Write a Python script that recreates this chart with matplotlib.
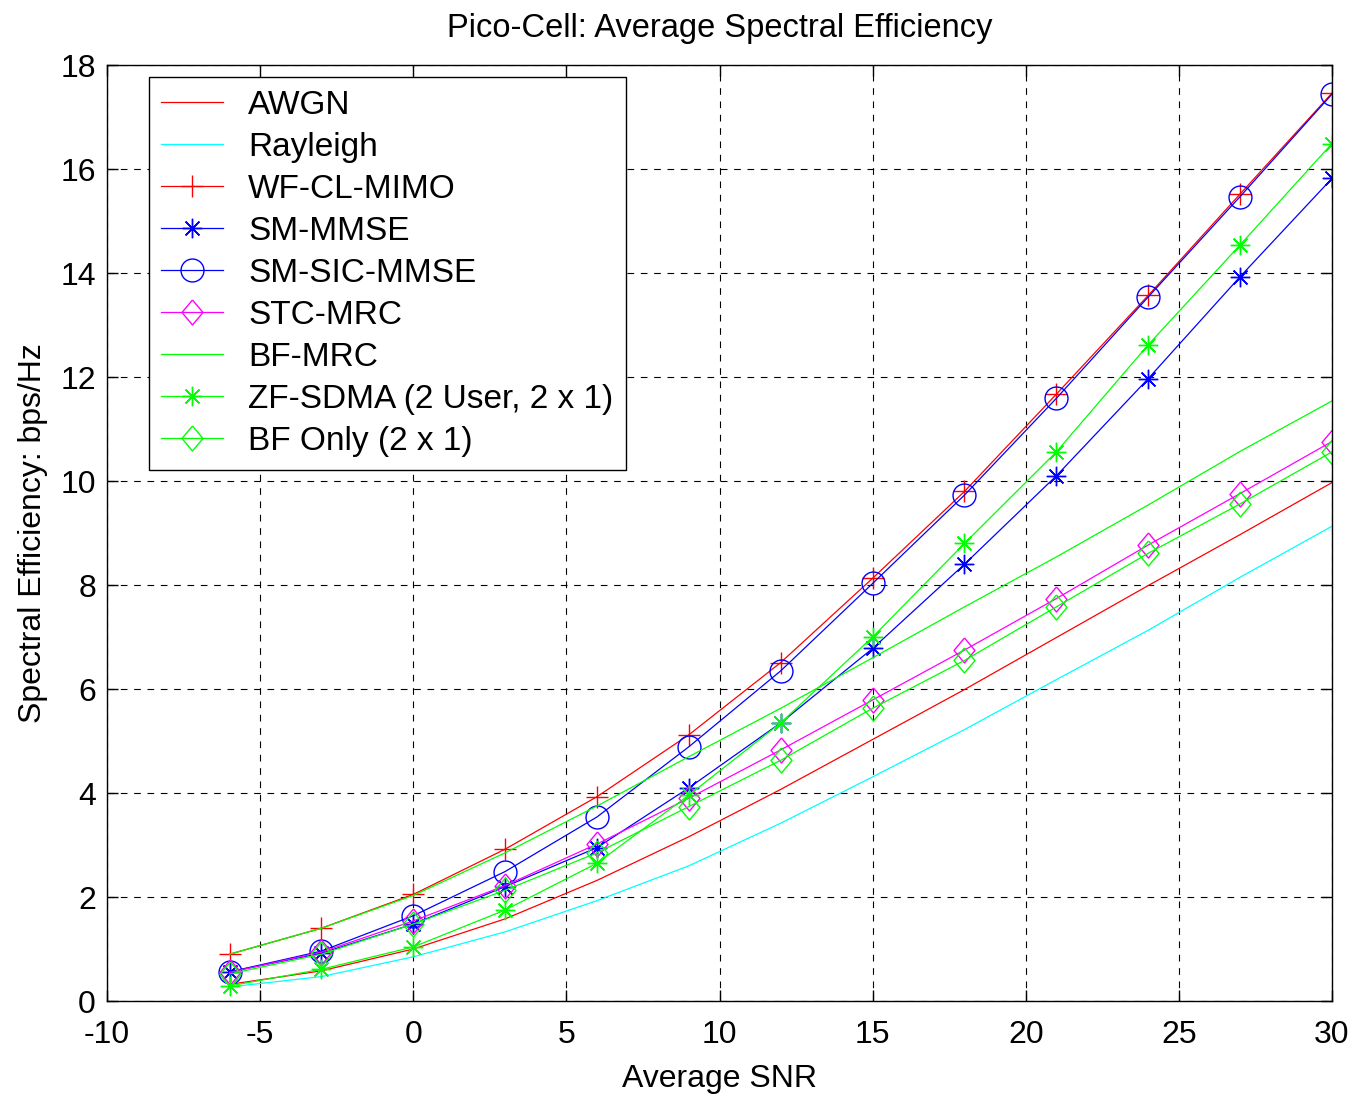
import matplotlib.pyplot as plt
import numpy as np

plt.rcParams["font.family"] = ["Liberation Sans", "DejaVu Sans"]
plt.rcParams["axes.unicode_minus"] = False

snr = [-6, -3, 0, 3, 6, 9, 12, 15, 18, 21, 24, 27, 30]

awgn = [0.32, 0.58, 1.0, 1.58, 2.32, 3.16, 4.07, 5.03, 5.99, 6.99, 7.99, 8.97, 9.97]
rayleigh = [0.27, 0.47, 0.85, 1.33, 1.93, 2.6, 3.42, 4.31, 5.22, 6.18, 7.13, 8.15, 9.13]
wf_cl_mimo = [0.90, 1.40, 2.05, 2.92, 3.93, 5.12, 6.51, 8.13, 9.80, 11.67, 13.57, 15.52, 17.46]
sm_mmse = [0.56, 0.92, 1.48, 2.20, 2.95, 4.10, 5.35, 6.78, 8.40, 10.10, 11.97, 13.93, 15.82]
sm_sic_mmse = [0.56, 0.96, 1.64, 2.49, 3.54, 4.89, 6.35, 8.03, 9.73, 11.59, 13.54, 15.47, 17.44]
stc_mrc = [0.55, 0.94, 1.54, 2.22, 3.02, 3.90, 4.83, 5.79, 6.75, 7.74, 8.77, 9.76, 10.76]
bf_mrc = [0.90, 1.40, 2.03, 2.85, 3.75, 4.70, 5.63, 6.60, 7.58, 8.54, 9.54, 10.57, 11.54]
zf_sdma = [0.29, 0.61, 1.04, 1.75, 2.65, 3.96, 5.35, 7.00, 8.80, 10.56, 12.62, 14.54, 16.49]
bf_only = [0.52, 0.90, 1.48, 2.13, 2.85, 3.74, 4.63, 5.63, 6.55, 7.58, 8.61, 9.56, 10.56]

# matlab style markers
diamond = [(0, 1), (0.84, 0), (0, -1), (-0.84, 0), (0, 1)]
asterisk = (8, 2, 0)

fig = plt.figure(figsize=(13.55, 10.97), dpi=100)
ax = fig.add_axes([0.079, 0.0875, 0.904, 0.8532])

lw = 0.9
ax.plot(snr, awgn, color="#ff0000", lw=lw, label="AWGN")
ax.plot(snr, rayleigh, color="#00ffff", lw=lw, label="Rayleigh")
ax.plot(snr, wf_cl_mimo, color="#ff0000", lw=lw, marker="+", ms=16,
        mew=1.0, label="WF-CL-MIMO")
ax.plot(snr, sm_mmse, color="#0000ff", lw=lw, marker=asterisk, ms=14,
        mew=1.0, label="SM-MMSE")
ax.plot(snr, sm_sic_mmse, color="#0000ff", lw=lw, marker="o", ms=16.5,
        mew=1.0, mfc="none", label="SM-SIC-MMSE")
ax.plot(snr, stc_mrc, color="#ff00ff", lw=lw, marker=diamond, ms=18,
        mew=1.0, mfc="none", label="STC-MRC")
ax.plot(snr, bf_mrc, color="#00ff00", lw=lw, label="BF-MRC")
ax.plot(snr, zf_sdma, color="#00ff00", lw=lw, marker=asterisk, ms=14,
        mew=1.0, label="ZF-SDMA (2 User, 2 x 1)")
ax.plot(snr, bf_only, color="#00ff00", lw=lw, marker=diamond, ms=18,
        mew=1.0, mfc="none", label="BF Only (2 x 1)")

ax.set_xlim(-10, 30)
ax.set_ylim(0, 18)
ax.set_xticks(np.arange(-10, 31, 5))
ax.set_yticks(np.arange(0, 19, 2))
ax.tick_params(direction="in", length=8, width=1, labelsize=23,
               top=True, right=True)
ax.tick_params(axis="x", pad=14)
ax.tick_params(axis="y", pad=8)
ax.grid(True, color="black", linestyle=(0, (6, 6)), linewidth=0.8)
for s in ax.spines.values():
    s.set_linewidth(1.0)

ax.set_title("Pico-Cell: Average Spectral Efficiency", fontsize=23.5, pad=20)
ax.set_xlabel("Average SNR", fontsize=23, labelpad=10)
ax.set_ylabel("Spectral Efficiency: bps/Hz", fontsize=23, labelpad=9)

leg = ax.legend(loc="upper left", bbox_to_anchor=(0.034, 0.987),
                borderaxespad=0, fontsize=24, fancybox=False, framealpha=1,
                edgecolor="black", labelspacing=0.33, handlelength=1.85,
                handletextpad=0.75, borderpad=0.38)
leg.get_frame().set_linewidth(1.0)

fig.savefig("out.png", dpi=100)
